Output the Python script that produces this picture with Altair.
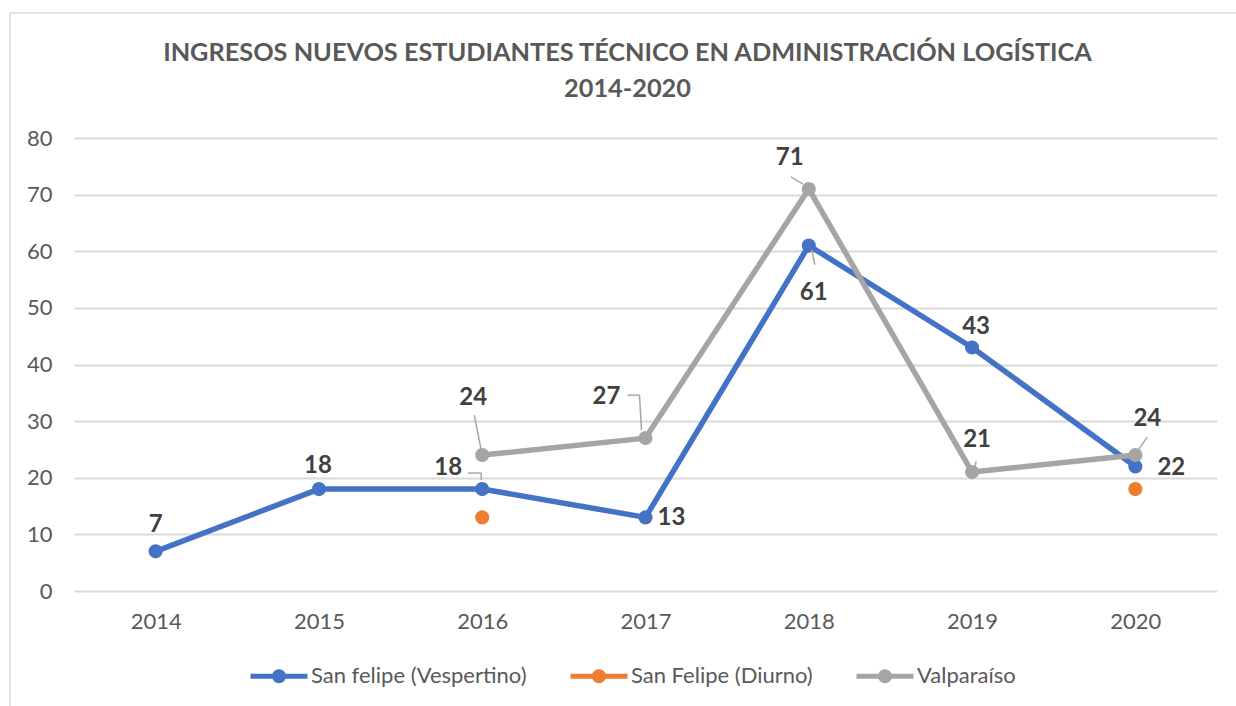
import altair as alt
import pandas as pd

# ---- data ----
years = ["2014", "2015", "2016", "2017", "2018", "2019", "2020"]
vespertino = [7, 18, 18, 13, 61, 43, 22]
diurno = [None, None, 13, None, None, None, 18]
valparaiso = [None, None, 24, 27, 71, 21, 24]
series_names = ["San felipe (Vespertino)", "San Felipe (Diurno)", "Valparaíso"]
y_ticks = [0, 10, 20, 30, 40, 50, 60, 70, 80]
title_lines = ["INGRESOS NUEVOS ESTUDIANTES TÉCNICO EN ADMINISTRACIÓN LOGÍSTICA", "2014-2020"]

# ---- styles ----
colors = ["#4472C4", "#ED7D31", "#A5A5A5"]
FONT = "Lato"
TXT = "#595959"

rows = []
for name, vals in zip(series_names, [vespertino, diurno, valparaiso]):
    for yr, v in zip(years, vals):
        if v is not None:
            rows.append({"year": yr, "serie": name, "value": v})
df = pd.DataFrame(rows)

W, H = 1143, 453
PAD = {"left": 74, "top": 138, "right": 19, "bottom": 115}

x = alt.X("year:O", scale=alt.Scale(type="point", domain=years, padding=0.5),
          axis=alt.Axis(title=None, labelAngle=0, grid=False, labelPadding=20))
y = alt.Y("value:Q", scale=alt.Scale(domain=[0, 80], nice=False),
          axis=alt.Axis(title=None, values=y_ticks, grid=True, labelPadding=22))
color_scale = alt.Scale(domain=series_names, range=colors)

legend_path = ("M-1,0L1,0M0.16,0A0.16,0.16,0,1,1,-0.16,0"
               "A0.16,0.16,0,1,1,0.16,0Z")
legend = alt.Legend(
    title=None, orient="none", legendX=174, legendY=507, direction="horizontal",
    symbolType=legend_path, symbolSize=3249, symbolStrokeWidth=5, symbolOpacity=1,
    labelFont=FONT, labelFontSize=22, labelColor=TXT, columnPadding=33,
    labelOffset=1, padding=0, labelLimit=500,
)

def sub(name, yr=None):
    d = df[df.serie == name]
    if yr is not None:
        d = d[d.year == yr]
    return d

frame = alt.Chart(pd.DataFrame({"a": [0]})).mark_rect(
    filled=False, stroke="#d9d9d9", strokeWidth=1.5
).encode(x=alt.value(-64), x2=alt.value(1250), y=alt.value(-125), y2=alt.value(700))

layers = [frame]
# legend carrier: an invisible line layer holding every series with stroke
layers.append(
    alt.Chart(df).mark_line(strokeWidth=0, opacity=0).encode(
        x=x, y=y, stroke=alt.Stroke("serie:N", scale=color_scale, legend=legend))
)
for name in [series_names[0], series_names[2]]:
    layers.append(
        alt.Chart(sub(name)).mark_line(strokeWidth=5.5, strokeJoin="round", strokeCap="round").encode(
            x=x, y=y, stroke=alt.Stroke("serie:N", scale=color_scale, legend=legend))
    )

points = alt.Chart(df).mark_circle(size=200, opacity=1).encode(
    x=x, y=y,
    fill=alt.Fill("serie:N", scale=color_scale, legend=legend),
)
layers.append(points)

# leader lines (offsets relative to the point, px)
leaders = [
    (series_names[0], "2016", (-14, -16, -1, -16)),
    (series_names[0], "2016", (-1, -16, -1, -9)),
    (series_names[0], "2018", (3, 4, 6, 19)),
    (series_names[2], "2016", (-8, -40, -1, -5)),
    (series_names[2], "2017", (-18, -43, -6, -43)),
    (series_names[2], "2017", (-6, -43, -4, -8)),
    (series_names[2], "2018", (-18, -12, -6, -5)),
    (series_names[2], "2019", (4, -11, 3, -5)),
    (series_names[2], "2020", (2, -4, 12, -18)),
]
for name, yr, (x1, y1, x2o, y2o) in leaders:
    layers.append(
        alt.Chart(sub(name, yr)).mark_rule(
            color="#A6A6A6", strokeWidth=1.5,
            xOffset=x1, yOffset=y1, x2Offset=x2o, y2Offset=y2o
        ).encode(x=x, x2="year:O", y=y, y2="value:Q")
    )

# data labels (offsets relative to the point, px)
label_offsets = {
    (series_names[0], "2014"): (0, -26),
    (series_names[0], "2015"): (-1, -23),
    (series_names[0], "2016"): (-34, -21),
    (series_names[0], "2017"): (26, 1),
    (series_names[0], "2018"): (5, 47),
    (series_names[0], "2019"): (4, -21),
    (series_names[0], "2020"): (36, 2),
    (series_names[2], "2016"): (-9, -57),
    (series_names[2], "2017"): (-39, -41),
    (series_names[2], "2018"): (-19, -31),
    (series_names[2], "2019"): (5, -32),
    (series_names[2], "2020"): (12, -36),
}
for (name, yr), (dx, dy) in label_offsets.items():
    layers.append(
        alt.Chart(sub(name, yr)).mark_text(
            font=FONT, fontSize=24, fontWeight="bold", color="#404040",
            align="center", baseline="middle", dx=dx, dy=dy
        ).encode(x=x, y=y, text="value:Q")
    )

chart = alt.layer(*layers).properties(
    width=W, height=H,
    padding=PAD,
    autosize=alt.AutoSizeParams(type="none"),
    title=alt.TitleParams(
        title_lines, font=FONT, fontSize=25.3, fontWeight="bold", color=TXT,
        anchor="middle", dx=-18, offset=-90, lineHeight=36,
    ),
).configure_view(stroke=None).configure_axis(
    domain=False, ticks=False, labelFont=FONT, labelFontSize=22, labelColor=TXT,
    gridColor="#d9d9d9", gridWidth=2,
)

chart.save("out.html", embed_options={"renderer": "svg", "actions": False})
